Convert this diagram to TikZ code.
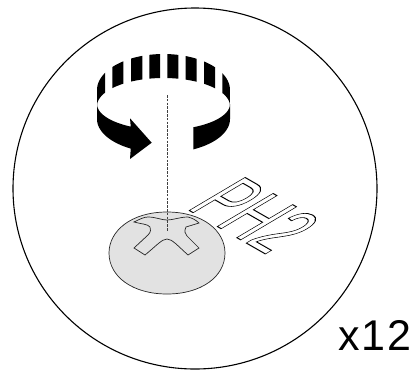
\documentclass[tikz,border=0pt]{standalone}
\usepackage{fontspec}
\setmainfont{Liberation Sans}
\newfontfamily\countfont[LetterSpace=5]{Liberation Sans}
\tikzset{
  ringblack/.style={fill=black,draw=none},
  headfill/.style={fill=headgray,draw=black!85,line width=0.7pt},
  axisline/.style={draw=black!75,line width=0.6pt,dash pattern=on 2.6pt off 1.2pt},
}
\definecolor{headgray}{RGB}{226,226,226}
\begin{document}
\begin{tikzpicture}[x=1pt,y=-1pt]
\useasboundingbox (0,0) rectangle (417,370);
\draw[black,line width=1.1pt] (195,188.5) ellipse[x radius=182,y radius=180.5];
% far stripes
\begin{scope}
\clip (96.7,40) rectangle (105,120) (112.3,40) rectangle (123.3,120) (131,40) rectangle (142.3,120)
 (149.3,40) rectangle (160,120) (167.3,40) rectangle (178.3,120) (185.7,40) rectangle (196.7,120)
 (204,40) rectangle (215,120) (222.3,40) rectangle (230,120);
\fill[ringblack] plot[domain=180:360,samples=60,smooth] ({163.5+66.5*cos(\x)},{90-36*abs(sin(\x))})
 -- plot[domain=360:180,samples=60,smooth] ({163.5+66.5*cos(\x)},{106-28*abs(sin(\x))}) -- cycle;
\end{scope}
% front left arrow
\fill[ringblack] plot[domain=180:119.5,samples=30,smooth] ({163.5+66.5*cos(\x)},{104+26*sin(\x)})
 -- (130,118.3) -- (151.7,142.7) -- (130,159)
 -- plot[domain=119.5:180,samples=30,smooth] ({163.5+66.5*cos(\x)},{119+34*sin(\x)}) -- cycle;
% front right
\fill[ringblack] plot[domain=0:63.4,samples=30,smooth] ({163.5+66.5*cos(\x)},{104+26*sin(\x)})
 -- plot[domain=63.4:0,samples=30,smooth] ({163.5+66.5*cos(\x)},{119+34*sin(\x)}) -- cycle;
% screw head
\path[headfill] (167,212) .. controls (203,212) and (225,231) .. (225,253)
 .. controls (225,277) and (201,294) .. (167,294)
 .. controls (133,294) and (109,277) .. (109,253)
 .. controls (109,231) and (131,212) .. (167,212) -- cycle;
\path[headfill] (134,222) .. controls (140,219) and (144,217) .. (148,217)
 .. controls (156,217) and (161,220) .. (167,220)
 .. controls (173,220) and (180,217) .. (188,217)
 .. controls (192,218) and (196,220) .. (199,223) -- (186,227)
 .. controls (184,231) and (185,234) .. (187,236) -- (199,248) -- (188,255)
 .. controls (178,246) and (172,239) .. (167,239)
 .. controls (162,239) and (156,246) .. (145,255) -- (134,248) -- (148,235)
 .. controls (151,232) and (151,229) .. (150,227)
 .. controls (148,224) and (141,224) .. (134,222) -- cycle;
\draw[axisline] (167.7,95) -- (167.7,231);
% PH2 outline text
\node[inner sep=0pt,anchor=base west,text=black,
  cm={4.2,-2.4,8.1,4.8,(185,208)},transform shape] (ph) at (0,0)
  {\special{pdf:code q 1 Tr 0.12 w}\fontsize{10}{10}\selectfont PH2\special{pdf:code Q}};
\node[inner sep=0pt,anchor=base west,font=\countfont\fontsize{43}{43}\selectfont] (cnt) at (338,350) {x12};
\end{tikzpicture}
\end{document}
